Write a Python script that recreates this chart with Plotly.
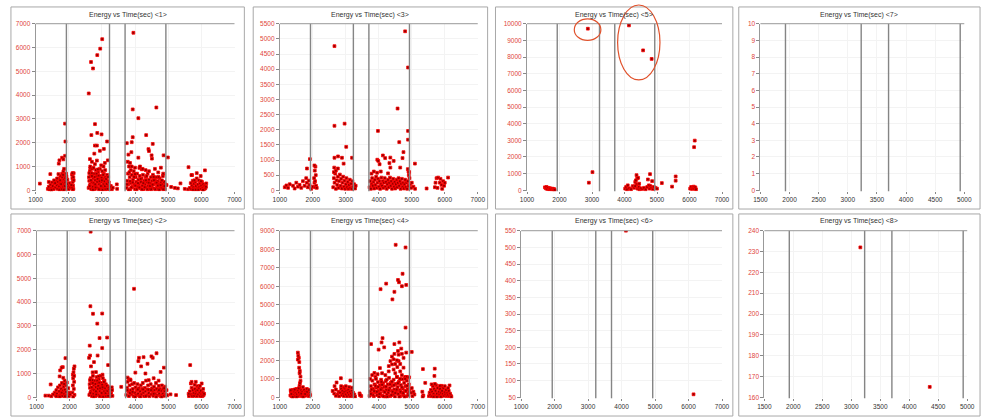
import plotly.graph_objects as go

# ---------------- data (time sec, energy) per channel ----------------
boundary_times = [1930, 3230, 3700, 4930]

ch1_points = [
    (1130, 280), (1445, 680), (1700, 1120), (1720, 1260), (1800, 1370), (1840, 1300), (1890, 1450), (1900, 2050), (1890, 2800),
    (2604, 4070), (2673, 5390), (2733, 5120), (2861, 5680), (2950, 5950), (3010, 6350), (2792, 2780), (2683, 2320), (2861, 2410),
    (2990, 2350), (3158, 2050), (2790, 1880), (2850, 1880), (2940, 1660), (2772, 1540), (3060, 1740), (2640, 1310), (2700, 1200),
    (2790, 1100), (2850, 1250), (2980, 1050), (3090, 1150), (3180, 1260), (2650, 920),
    (3950, 6620), (3930, 3400), (4100, 3030), (4336, 2320), (4643, 3480), (3930, 2230), (3900, 2020), (3752, 1980), (3800, 1500),
    (3890, 1600), (4405, 1730), (4420, 1650), (4534, 1950), (4500, 1470), (4510, 1330), (4100, 1370), (4861, 1470), (4990, 1380),
    (4000, 950), (4130, 940), (4200, 880),
    (5613, 970), (5722, 640), (5861, 720), (5980, 600), (6108, 840), (6148, 290),
    (3270, 180), (3300, 40), (3450, 250), (3460, 60), (3330, 110), (4950, 220), (5090, 140), (5290, 80), (5370, 290), (5200, 100),
    (5500, 60), (5600, 40),
    (1370, 60), (1400, 150), (1420, 30), (1450, 240), (1480, 90), (1500, 330), (1520, 180), (1550, 50), (1570, 280), (1600, 120),
    (1620, 400), (1640, 220), (1660, 60), (1680, 350), (1700, 500), (1710, 160), (1730, 280), (1750, 600), (1760, 80), (1780, 420),
    (1790, 220), (1800, 700), (1810, 540), (1820, 320), (1830, 120), (1840, 800), (1850, 450), (1860, 250), (1870, 620), (1880, 60),
    (1890, 380), (1900, 520), (1910, 200), (1920, 700), (1940, 300), (1950, 100), (1960, 450), (1980, 200), (2000, 50), (2020, 300),
    (2050, 120), (2100, 650), (2110, 500), (2120, 350), (2130, 200), (2140, 60), (2150, 720), (2100, 100), (2150, 420), (1560, 420),
    (1650, 500), (1720, 30), (1770, 260), (1830, 650), (1860, 900), (1880, 180), (1930, 580), (1400, 350), (1480, 20), (1590, 300),
    (1690, 680), (1740, 420), (1790, 40), (1850, 30), (1900, 330), (1950, 260), (2080, 220), (2110, 720), (2140, 550), (2120, 40),
    (2600, 100), (2620, 400), (2640, 800), (2650, 250), (2660, 600), (2680, 50), (2700, 350), (2710, 900), (2720, 150), (2740, 500),
    (2760, 700), (2770, 250), (2790, 50), (2800, 420), (2820, 850), (2830, 200), (2850, 600), (2860, 350), (2880, 100), (2890, 750),
    (2900, 480), (2920, 250), (2940, 900), (2950, 50), (2960, 600), (2980, 350), (3000, 150), (3010, 800), (3030, 480), (3050, 250),
    (3060, 700), (3080, 80), (3100, 550), (3120, 300), (3140, 120), (3160, 650), (3180, 400), (3200, 200), (3220, 50), (2650, 1000),
    (2750, 950), (3050, 1000), (2610, 550), (2630, 180), (2670, 420), (2690, 720), (2730, 30), (2750, 300), (2780, 560), (2810, 120),
    (2840, 700), (2870, 480), (2910, 40), (2930, 380), (2970, 180), (2990, 520), (3020, 30), (3040, 650), (3070, 380), (3090, 170),
    (3110, 40), (3130, 480), (3150, 270), (3170, 60), (3190, 560), (3210, 330), (3240, 150), (2700, 600), (2800, 250), (2900, 620),
    (3000, 420), (3100, 850), (2620, 720), (2880, 880),
    (3750, 100), (3770, 400), (3790, 700), (3800, 250), (3820, 1000), (3840, 550), (3860, 50), (3870, 850), (3880, 300), (3900, 650),
    (3920, 150), (3940, 450), (3960, 800), (3980, 250), (4000, 50), (4020, 550), (4040, 350), (4060, 700), (4080, 150), (4100, 450),
    (4120, 250), (4140, 600), (4160, 80), (4180, 350), (4200, 500), (4220, 200), (4240, 650), (4260, 50), (4280, 400), (4300, 250),
    (4320, 550), (4340, 120), (4360, 350), (4380, 700), (4400, 200), (4420, 450), (4440, 60), (4460, 300), (4480, 550), (4500, 150),
    (4520, 400), (4540, 650), (4560, 250), (4580, 80), (4600, 450), (4620, 300), (4640, 550), (4660, 150), (4680, 380), (4700, 60),
    (4720, 250), (4740, 500), (4760, 150), (4780, 350), (4800, 80), (4820, 250), (4840, 600), (4860, 150), (4880, 350), (4900, 50),
    (4920, 250), (3780, 1200), (3850, 1150), (3900, 1000), (4150, 1000), (4230, 900), (4320, 850), (4420, 800), (4600, 900),
    (4700, 750), (4780, 950), (4850, 700), (3760, 250), (3810, 30), (3850, 380), (3890, 120), (3930, 330), (3970, 560), (4010, 200),
    (4050, 40), (4090, 300), (4130, 120), (4170, 480), (4210, 40), (4250, 300), (4290, 130), (4330, 420), (4370, 40), (4410, 320),
    (4450, 180), (4490, 40), (4530, 240), (4570, 420), (4610, 40), (4650, 320), (4690, 200), (4730, 30), (4770, 220), (4810, 420),
    (4850, 40), (4890, 180), (3830, 760), (4000, 680), (4350, 600), (4560, 560), (4710, 560),
    (5650, 100), (5680, 300), (5700, 50), (5720, 200), (5740, 400), (5760, 120), (5780, 280), (5800, 50), (5820, 350), (5840, 180),
    (5860, 500), (5880, 80), (5900, 250), (5920, 420), (5940, 130), (5960, 300), (5980, 60), (6000, 200), (6020, 350), (6040, 100),
    (6060, 250), (6080, 50), (6100, 180), (6120, 80), (5700, 640), (5750, 30), (5830, 30), (5910, 30), (5990, 380), (6050, 20),
    (6140, 150), (5790, 420),
]

ch3_points = [
    (2656, 4760), (4798, 5250), (4887, 4055), (4570, 2700), (2656, 2130), (2964, 2200), (3975, 1960), (4887, 1960), (4887, 1670),
    (4620, 1590), (3013, 1435), (4748, 1260), (1912, 1030), (2656, 1075), (2765, 1120), (2884, 1075), (3190, 1075), (2934, 880),
    (3955, 1010), (4124, 1150), (4025, 860), (4322, 900), (4351, 750), (4193, 1065), (4451, 970), (4719, 1065), (4650, 750),
    (5095, 880), (1823, 720), (4880, 700), (4900, 620), (3985, 970), (4350, 1080),
    (1150, 100), (1200, 160), (1250, 80), (1300, 200), (1400, 150), (1450, 60), (1500, 250), (1550, 120), (1600, 180), (1650, 80),
    (1700, 300), (1750, 150), (1800, 400), (1820, 250), (1850, 100), (1880, 320), (1900, 180), (1950, 50), (2000, 120), (2040, 400),
    (2050, 250), (2060, 650), (2070, 100), (2080, 780), (2090, 500), (2050, 820), (2070, 300), (2100, 150), (2120, 80),
    (2620, 100), (2640, 400), (2660, 250), (2680, 550), (2700, 50), (2720, 330), (2740, 180), (2760, 450), (2780, 80), (2800, 300),
    (2820, 520), (2840, 150), (2860, 380), (2880, 60), (2900, 250), (2920, 450), (2940, 120), (2960, 320), (2980, 50), (3000, 200),
    (3020, 400), (3040, 100), (3060, 280), (3080, 50), (3100, 180), (3120, 350), (3140, 80), (3160, 220), (3180, 50), (3200, 300),
    (3220, 120), (3250, 200), (3280, 60), (3300, 150), (2650, 750), (2640, 600), (2700, 650), (2760, 720),
    (3720, 100), (3740, 300), (3760, 50), (3780, 200), (3800, 400), (3820, 150), (3840, 280), (3860, 60), (3880, 350), (3900, 180),
    (3920, 450), (3940, 80), (3960, 250), (3980, 380), (4000, 120), (4020, 300), (4040, 50), (4060, 200), (4080, 420), (4100, 150),
    (4120, 300), (4140, 80), (4160, 250), (4180, 400), (4200, 120), (4220, 280), (4240, 50), (4260, 200), (4280, 350), (4300, 100),
    (4320, 250), (4340, 420), (4360, 150), (4380, 300), (4400, 50), (4420, 220), (4440, 380), (4460, 120), (4480, 280), (4500, 60),
    (4520, 200), (4540, 350), (4560, 100), (4580, 250), (4600, 400), (4620, 150), (4640, 300), (4660, 50), (4680, 220), (4700, 380),
    (4720, 120), (4740, 250), (4760, 60), (4780, 200), (4800, 350), (4820, 100), (4840, 250), (4860, 50), (4880, 300), (4900, 150),
    (4920, 600), (4910, 500), (4930, 400), (4950, 200), (4980, 80), (5000, 250), (5050, 120), (5100, 50), (3780, 550), (3850, 620),
    (3950, 580), (4060, 620), (4280, 560),
    (5450, 60), (5700, 100), (5750, 400), (5800, 420), (5850, 250), (5900, 180), (5950, 300), (5980, 150), (6000, 250), (5720, 250),
    (5780, 80), (6100, 420), (5870, 380), (5920, 50),
]

ch5_points = [
    (2872, 9700), (4137, 9900), (4572, 8400), (4835, 7885), (6161, 2985), (6141, 2590), (3014, 1090), (2903, 455), (5574, 830),
    (5574, 575), (5463, 220), (5149, 435), (4785, 970), (4370, 910), (4390, 710),
    (1550, 180), (1580, 120), (1600, 200), (1620, 80), (1650, 150), (1680, 60), (1700, 130), (1720, 90), (1750, 50), (1780, 100),
    (1800, 40), (1830, 80), (1850, 30),
    (4020, 100), (4050, 200), (4080, 50), (4100, 300), (4150, 120), (4200, 60), (4250, 250), (4300, 150), (4330, 500), (4350, 600),
    (4370, 350), (4400, 100), (4420, 750), (4440, 200), (4460, 50), (4500, 120), (4550, 80), (4600, 150), (4650, 50), (4700, 200),
    (4720, 650), (4750, 300), (4770, 100), (4800, 250), (4830, 150), (4850, 550), (4870, 80), (4900, 200), (4950, 150), (5000, 100),
    (4450, 400), (4330, 250),
    (6020, 100), (6050, 200), (6080, 80), (6100, 150), (6130, 220), (6150, 100), (6180, 180), (6200, 60),
]

ch7_points = []

ch2_points = [
    (2640, 6960), (2930, 6215), (3955, 4560), (2632, 3825), (2711, 3510), (2990, 3520), (2841, 3095), (2910, 2490), (3139, 2510),
    (2612, 2170), (2990, 2070), (2851, 1755), (2622, 1755), (2592, 1660), (2741, 1480), (3169, 1355), (1876, 1645), (1796, 1270),
    (1716, 1130), (1760, 1250), (1428, 540), (1269, 70), (1368, 70), (4085, 1520), (4105, 1660), (4244, 1685), (4363, 1410),
    (4522, 1660), (4637, 1850), (4482, 1720), (3995, 1036), (4860, 1245), (4761, 1065), (5657, 1355), (5677, 580), (5826, 650),
    (5876, 470), (6005, 580), (3567, 440), (5060, 125), (5229, 95), (2700, 1050), (2800, 1060), (2650, 1300), (3000, 950),
    (1700, 880), (1810, 820), (4170, 1300), (4300, 1000), (3800, 750),
    (1550, 200), (1580, 80), (1600, 300), (1620, 150), (1650, 420), (1670, 60), (1690, 250), (1710, 500), (1730, 150), (1750, 350),
    (1770, 600), (1780, 60), (1800, 280), (1820, 450), (1830, 150), (1850, 700), (1860, 320), (1880, 80), (1890, 500), (1900, 230),
    (1920, 620), (1940, 100), (1960, 380), (1980, 50), (2000, 200), (2020, 120), (2090, 200), (2100, 500), (2110, 800), (2120, 1050),
    (2130, 350), (2140, 650), (2150, 1300), (2100, 950), (2130, 1200), (2150, 100), (2110, 20), (2140, 900), (1500, 120), (1450, 40),
    (1600, 40), (1700, 30), (1860, 40), (1760, 200), (1840, 560),
    (2600, 100), (2620, 400), (2640, 800), (2650, 250), (2660, 600), (2680, 50), (2700, 350), (2710, 900), (2720, 150), (2740, 500),
    (2760, 700), (2770, 250), (2790, 50), (2800, 420), (2820, 850), (2830, 200), (2850, 600), (2860, 350), (2880, 100), (2890, 750),
    (2900, 480), (2920, 250), (2940, 900), (2950, 50), (2960, 600), (2980, 350), (3000, 150), (3010, 800), (3030, 480), (3050, 250),
    (3060, 700), (3080, 80), (3100, 550), (3120, 300), (3140, 120), (3160, 450), (3180, 300), (3200, 200), (3220, 50), (3240, 380),
    (3260, 150), (3280, 420), (3300, 60), (2610, 550), (2630, 180), (2670, 420), (2690, 720), (2730, 30), (2750, 300), (2780, 560),
    (2810, 120), (2840, 700), (2870, 480), (2910, 40), (2930, 380), (2970, 180), (2990, 520), (3020, 30), (3040, 650), (3070, 380),
    (3090, 170), (3110, 40), (3130, 480), (3150, 270), (3170, 60), (3190, 400), (3210, 330), (3250, 250), (3290, 300), (2700, 600),
    (2800, 250), (2900, 620), (3000, 420), (2620, 720), (2880, 880),
    (3720, 100), (3740, 400), (3760, 650), (3780, 250), (3800, 50), (3820, 500), (3840, 750), (3860, 300), (3880, 120), (3900, 550),
    (3920, 350), (3940, 50), (3960, 600), (3980, 200), (4000, 420), (4020, 80), (4040, 300), (4060, 550), (4080, 150), (4100, 380),
    (4120, 50), (4140, 250), (4160, 500), (4180, 120), (4200, 350), (4220, 600), (4240, 200), (4260, 50), (4280, 400), (4300, 250),
    (4320, 700), (4340, 100), (4360, 330), (4380, 500), (4400, 180), (4420, 40), (4440, 300), (4460, 550), (4480, 120), (4500, 380),
    (4520, 250), (4540, 60), (4560, 450), (4580, 300), (4600, 150), (4620, 600), (4640, 350), (4660, 80), (4680, 250), (4700, 480),
    (4720, 150), (4740, 350), (4760, 50), (4780, 280), (4800, 500), (4820, 150), (4840, 350), (4860, 60), (4880, 250), (4900, 450),
    (4920, 120), (4940, 300), (4960, 80), (3750, 300), (3830, 180), (3910, 230), (3990, 20), (4070, 330), (4150, 30), (4230, 330),
    (4310, 50), (4390, 320), (4470, 300), (4550, 150), (4630, 20), (4710, 300), (4790, 20), (4870, 380), (3760, 830), (3850, 720),
    (4400, 720), (4550, 800), (4700, 700),
    (5620, 50), (5650, 250), (5680, 120), (5700, 400), (5720, 50), (5740, 300), (5760, 180), (5780, 60), (5800, 350), (5820, 150),
    (5840, 250), (5860, 50), (5880, 300), (5900, 120), (5920, 400), (5940, 200), (5960, 50), (5980, 280), (6000, 130), (6020, 40),
    (6040, 200), (6060, 80), (6080, 150), (5700, 650), (5790, 520), (5950, 480), (6050, 350), (5610, 150),
]

ch4_points = [
    (4512, 8240), (4811, 8095), (4721, 6675), (4582, 6340), (4612, 6215), (4224, 6140), (4701, 6000), (4831, 6070), (4055, 5840),
    (4473, 5700), (4413, 5290), (4811, 3765), (3766, 2875), (4114, 3195), (4085, 2965), (4473, 2875), (4622, 2965), (4164, 2700),
    (3995, 2575), (4681, 2630), (4582, 2500), (4831, 2415), (4999, 2450), (4473, 2345), (4353, 1955), (4403, 1775), (4602, 1955),
    (4562, 1635), (4751, 2130), (4303, 1685), (4035, 1580), (3866, 1315), (3965, 1245), (5338, 1525), (5696, 1545), (5686, 1155),
    (5408, 780), (5905, 620), (6144, 640),
    (4450, 1500), (4500, 1300), (4650, 1400), (4700, 1200), (4800, 1100), (4550, 2000), (4400, 2200), (4600, 2300), (4650, 1800),
    (4750, 1600), (4850, 1100), (3900, 1100), (4200, 1200), (4100, 1300), (3800, 1200), (4500, 1800), (4450, 2050), (4700, 2350),
    (4550, 1100), (4300, 1400),
    (1547, 2415), (1577, 2130), (1547, 2040), (1587, 1600), (1607, 1420), (1627, 1120), (1627, 890), (1597, 620), (1590, 1900),
    (1560, 2250), (1600, 1300), (1610, 760),
    (1320, 100), (1340, 300), (1360, 50), (1380, 200), (1400, 400), (1420, 120), (1440, 300), (1460, 50), (1480, 220), (1500, 450),
    (1520, 150), (1540, 350), (1560, 60), (1580, 250), (1600, 500), (1620, 150), (1640, 380), (1660, 60), (1680, 300), (1700, 550),
    (1720, 150), (1740, 400), (1760, 80), (1780, 300), (1800, 200), (1820, 450), (1840, 100), (1860, 320), (1880, 60), (1900, 250),
    (1330, 380), (1390, 20), (1450, 420), (1510, 30), (1570, 480), (1650, 200), (1710, 30), (1770, 180), (1830, 300), (1890, 400),
    (1920, 120), (1350, 180),
    (2851, 1030), (2721, 800), (3139, 905), (2921, 550), (2602, 340), (2660, 600), (2700, 420), (2750, 150), (2780, 300), (2800, 50),
    (2830, 250), (2860, 450), (2880, 120), (2900, 350), (2920, 200), (2940, 60), (2960, 300), (2980, 450), (3000, 150), (3020, 330),
    (3040, 50), (3060, 250), (3080, 400), (3100, 120), (3120, 300), (3140, 50), (3160, 200), (3180, 350), (3200, 100), (3220, 250),
    (3240, 60), (3260, 150), (3280, 40), (2650, 200), (2700, 80), (2860, 600), (2960, 520), (3100, 550), (3000, 600), (3180, 520),
    (3418, 210), (3468, 70), (3430, 120),
    (3720, 80), (3745, 320), (3760, 600), (3790, 180), (3805, 900), (3830, 450), (3850, 50), (3870, 700), (3890, 280), (3915, 1000),
    (3930, 520), (3950, 120), (3975, 820), (3990, 360), (4010, 40), (4030, 640), (4050, 230), (4070, 950), (4090, 480), (4110, 90),
    (4130, 760), (4150, 330), (4170, 560), (4190, 30), (4210, 880), (4230, 400), (4250, 150), (4270, 700), (4290, 260), (4310, 1050),
    (4330, 500), (4350, 60), (4370, 800), (4390, 350), (4410, 620), (4430, 140), (4450, 950), (4470, 430), (4490, 40), (4510, 720),
    (4530, 280), (4550, 1100), (4570, 550), (4590, 180), (4610, 850), (4630, 380), (4650, 60), (4670, 660), (4690, 250), (4710, 980),
    (4730, 470), (4750, 120), (4770, 780), (4790, 330), (4810, 600), (4830, 50), (4850, 900), (4870, 420), (4890, 200), (4910, 700),
    (4930, 300), (4920, 1080), (3740, 1000), (3780, 420), (3820, 130), (3860, 330), (3900, 620), (3940, 300), (3980, 560), (4020, 180),
    (4060, 420), (4100, 680), (4140, 50), (4180, 280), (4220, 580), (4260, 30), (4300, 380), (4340, 700), (4380, 120), (4420, 300),
    (4460, 660), (4500, 230), (4540, 420), (4580, 760), (4620, 30), (4660, 300), (4700, 540), (4740, 220), (4780, 30), (4820, 350),
    (4860, 620), (4900, 100), (4940, 460), (3760, 180), (4080, 840), (4240, 960), (4400, 850), (4640, 1000), (4800, 1000),
    (4980, 250), (5000, 500), (5050, 300), (5080, 150), (5020, 60), (5320, 300), (5350, 100), (5330, 30),
    (5520, 60), (5540, 250), (5560, 120), (5580, 400), (5600, 50), (5620, 300), (5640, 600), (5660, 180), (5680, 450), (5700, 80),
    (5720, 350), (5740, 650), (5760, 200), (5780, 500), (5800, 60), (5820, 300), (5840, 150), (5860, 450), (5880, 250), (5900, 60),
    (5920, 350), (5940, 180), (5960, 500), (5980, 80), (6000, 280), (6020, 150), (6040, 400), (6060, 60), (6080, 230), (6100, 120),
    (6120, 350), (6140, 60), (6160, 200), (6180, 100), (5600, 700), (5700, 720), (5850, 620), (6000, 600), (6100, 500), (5660, 30),
    (5760, 20), (5880, 30), (6200, 30),
]

ch6_points = [(4130, 550), (6150, 59)]

ch8_points = [(3156, 232), (4353, 165)]

titles = ["Energy vs Time(sec) <1>", "Energy vs Time(sec) <3>", "Energy vs Time(sec) <5>", "Energy vs Time(sec) <7>",
          "Energy vs Time(sec) <2>", "Energy vs Time(sec) <4>", "Energy vs Time(sec) <6>", "Energy vs Time(sec) <8>"]
channel_points = [ch1_points, ch3_points, ch5_points, ch7_points, ch2_points, ch4_points, ch6_points, ch8_points]
x_ranges = [(1000, 7000, 1000), (1000, 7000, 1000), (1000, 7000, 1000), (1500, 5000, 500),
            (1000, 7000, 1000), (1000, 7000, 1000), (1000, 7000, 1000), (1500, 5000, 500)]
y_ranges = [(0, 7000, 1000), (0, 5500, 500), (0, 10000, 1000), (0, 10, 1),
            (0, 7000, 1000), (0, 9000, 1000), (50, 550, 50), (160, 240, 10)]

# ---------------- layout geometry (pixels) ----------------
W, H = 991, 420
plot_px = [(29, 231, 20, 190), (277, 478, 20, 190), (528, 726, 20, 190), (765, 972, 20, 190),
           (30, 231, 230, 400), (277, 478, 230, 400), (522, 726, 230, 400), (769, 975, 230, 400)]
frame_cols = [(4, 241), (250, 488), (496, 737), (743, 988)]
frame_rows = [(3, 208), (213, 418)]
title_y = [11, 220]

FONT = "Liberation Sans, Arial, sans-serif"
fig = go.Figure()
shapes = []
annotations = []

for i in range(8):
    n = i + 1
    xs = "" if n == 1 else str(n)
    pts = channel_points[i]
    t = [p[0] for p in pts]
    e = [p[1] for p in pts]
    fig.add_trace(go.Scatter(
        x=t, y=e, mode="markers", xaxis="x" + xs, yaxis="y" + xs, showlegend=False,
        marker=dict(symbol="square", size=2.8, color="#900000", line=dict(color="#ff0000", width=0.8)),
        hoverinfo="x+y"))
    x0p, x1p, y0p, y1p = plot_px[i]
    xmin, xmax, xd = x_ranges[i]
    ymin, ymax, yd = y_ranges[i]
    ylo = ymin - (ymax - ymin) / 169.0
    fig.update_layout(**{
        "xaxis" + xs: dict(domain=[x0p / W, x1p / W], range=[xmin, xmax], anchor="y" + xs,
                           tickmode="linear", tick0=xmin, dtick=xd, tickformat="d", showgrid=True, gridcolor="#f3f3f3",
                           zeroline=False, showline=False, ticks="outside", ticklen=2, tickcolor="#888",
                           tickfont=dict(family=FONT, size=6.5, color="#333"), fixedrange=True),
        "yaxis" + xs: dict(domain=[1 - y1p / H, 1 - y0p / H], range=[ylo, ymax], anchor="x" + xs,
                           tickmode="linear", tick0=ymin, dtick=yd, tickformat="d", showgrid=True, gridcolor="#f3f3f3",
                           zeroline=False, showline=True, linecolor="#999", linewidth=1,
                           ticks="outside", ticklen=3, tickcolor="#888",
                           tickfont=dict(family=FONT, size=6.5, color="#e0443a"), fixedrange=True),
    })
    # boundary lines
    for bt in boundary_times:
        shapes.append(dict(type="line", xref="x" + xs, yref="y" + xs + " domain", x0=bt, x1=bt, y0=0, y1=1,
                           line=dict(color="#858585", width=1.4), layer="above"))
    # top border line of plot area
    shapes.append(dict(type="line", xref="x" + xs + " domain", yref="y" + xs + " domain", x0=0, x1=1, y0=1, y1=1,
                       line=dict(color="#999", width=1)))
    # panel frame
    r, c = divmod(i, 4)
    fx0, fx1 = frame_cols[c]
    fy0, fy1 = frame_rows[r]
    shapes.append(dict(type="rect", xref="paper", yref="paper", x0=fx0 / W, x1=fx1 / W, y0=1 - fy1 / H, y1=1 - fy0 / H,
                       line=dict(color="#a8a8a8", width=1), fillcolor="rgba(0,0,0,0)", layer="below"))
    annotations.append(dict(text=titles[i], xref="paper", yref="paper", x=(fx0 + fx1) / 2 / W, y=1 - title_y[r] / H,
                            showarrow=False, xanchor="center", yanchor="middle",
                            font=dict(family=FONT, size=7, color="#333")))

# highlight ellipses on panel <5>
for (ex0, ex1, ey0, ey1) in [(576, 603, 15, 37), (620, 663, 1, 77)]:
    shapes.append(dict(type="circle", xref="paper", yref="paper", x0=ex0 / W, x1=ex1 / W, y0=1 - ey1 / H, y1=1 - ey0 / H,
                       line=dict(color="#e0502a", width=1.2), layer="above"))

fig.update_layout(width=W, height=H, margin=dict(l=0, r=0, t=0, b=0), paper_bgcolor="white", plot_bgcolor="white",
                  shapes=shapes, annotations=annotations, showlegend=False)

fig.write_html("out.html")
